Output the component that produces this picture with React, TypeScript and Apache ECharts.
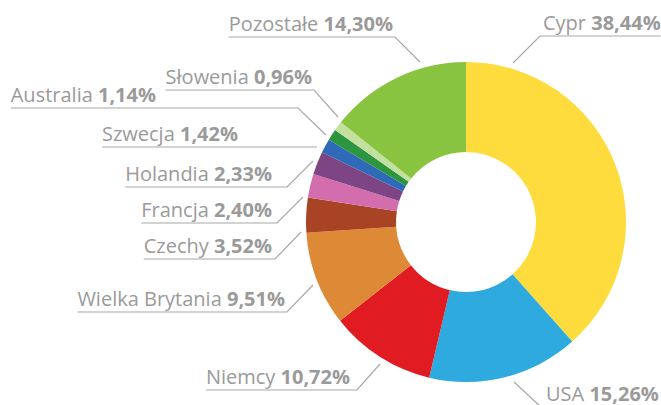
import React, { useEffect, useRef } from "react";
import * as echarts from "echarts";

const categories = [
  "Cypr",
  "USA",
  "Niemcy",
  "Wielka Brytania",
  "Czechy",
  "Francja",
  "Holandia",
  "Szwecja",
  "Australia",
  "Słowenia",
  "Pozostałe",
];
const shares = [38.44, 15.26, 10.72, 9.51, 3.52, 2.4, 2.33, 1.42, 1.14, 0.96, 14.3];
const colors = [
  "#FEDC3D",
  "#2EAADF",
  "#E01B22",
  "#DE8935",
  "#A84423",
  "#D36DAE",
  "#7E4585",
  "#2E6AB8",
  "#2D953F",
  "#C4E09F",
  "#88C440",
];

// label placement (text edge x, underline y, elbow x, pie-side end point)
const labelSide = ["right", "right", "left", "left", "left", "left", "left", "left", "left", "left", "left"];
const labelTextX = [543, 546, 350, 285, 272, 272, 272, 238, 156, 312, 393];
const labelLineY = [36, 407, 390, 312, 259, 223, 187, 147, 108, 90, 37];
const labelElbowX = [540, 541, 357, 287, 275, 277, 287, 317, 298, 314, 395];
const labelEndX = [513, 514, 380, 313, 301, 303, 313, 317, 326, 338, 420];
const labelEndY = [63, 382, 364, 285, 232, 197, 161, 147, 135, 117, 62];

const TEXT = "#9a9a9a";
const FONT = "'Open Sans', sans-serif";

export default function App() {
  const ref = useRef<HTMLDivElement>(null);
  useEffect(() => {
    document.body.style.margin = "0";
    const chart = echarts.init(ref.current!, null, { renderer: "svg" });
    chart.setOption({
      animation: false,
      backgroundColor: "#ffffff",
      series: [
        {
          type: "pie",
          center: [466, 222],
          radius: [70, 160],
          startAngle: 90,
          clockwise: true,
          avoidLabelOverlap: false,
          data: categories.map((name, i) => ({
            name,
            value: shares[i],
            itemStyle: { color: colors[i] },
          })),
          label: {
            show: true,
            position: "outside",
            fontFamily: FONT,
            fontSize: 20,
            color: TEXT,
            formatter: (p: any) =>
              `{n|${p.name} }{v|${Number(p.value).toFixed(2).replace(".", ",")}%}`,
            rich: {
              n: { fontFamily: FONT, fontSize: 20, color: TEXT, lineHeight: 20 },
              v: { fontFamily: FONT, fontSize: 20, color: TEXT, fontWeight: "bold", lineHeight: 20 },
            },
          },
          labelLine: {
            show: true,
            length: 10,
            length2: 10,
            lineStyle: { color: "#a8a8a8", width: 1.2 },
          },
          emphasis: { disabled: true },
          labelLayout: (params: any) => {
            const i = params.dataIndex;
            const left = labelSide[i] === "left";
            const w = params.labelRect.width;
            const tx = labelTextX[i];
            const ly = labelLineY[i];
            const far = left ? tx - w : tx + w;
            return {
              x: tx,
              y: ly - 4,
              align: left ? "right" : "left",
              verticalAlign: "bottom",
              labelLinePoints: [
                [labelEndX[i], labelEndY[i]],
                [labelElbowX[i], ly],
                [far, ly],
              ],
            };
          },
        },
      ],
    });
    return () => chart.dispose();
  }, []);
  return (
    <div
      ref={ref}
      style={{ position: "absolute", left: 0, top: 0, width: 661, height: 405 }}
    />
  );
}
